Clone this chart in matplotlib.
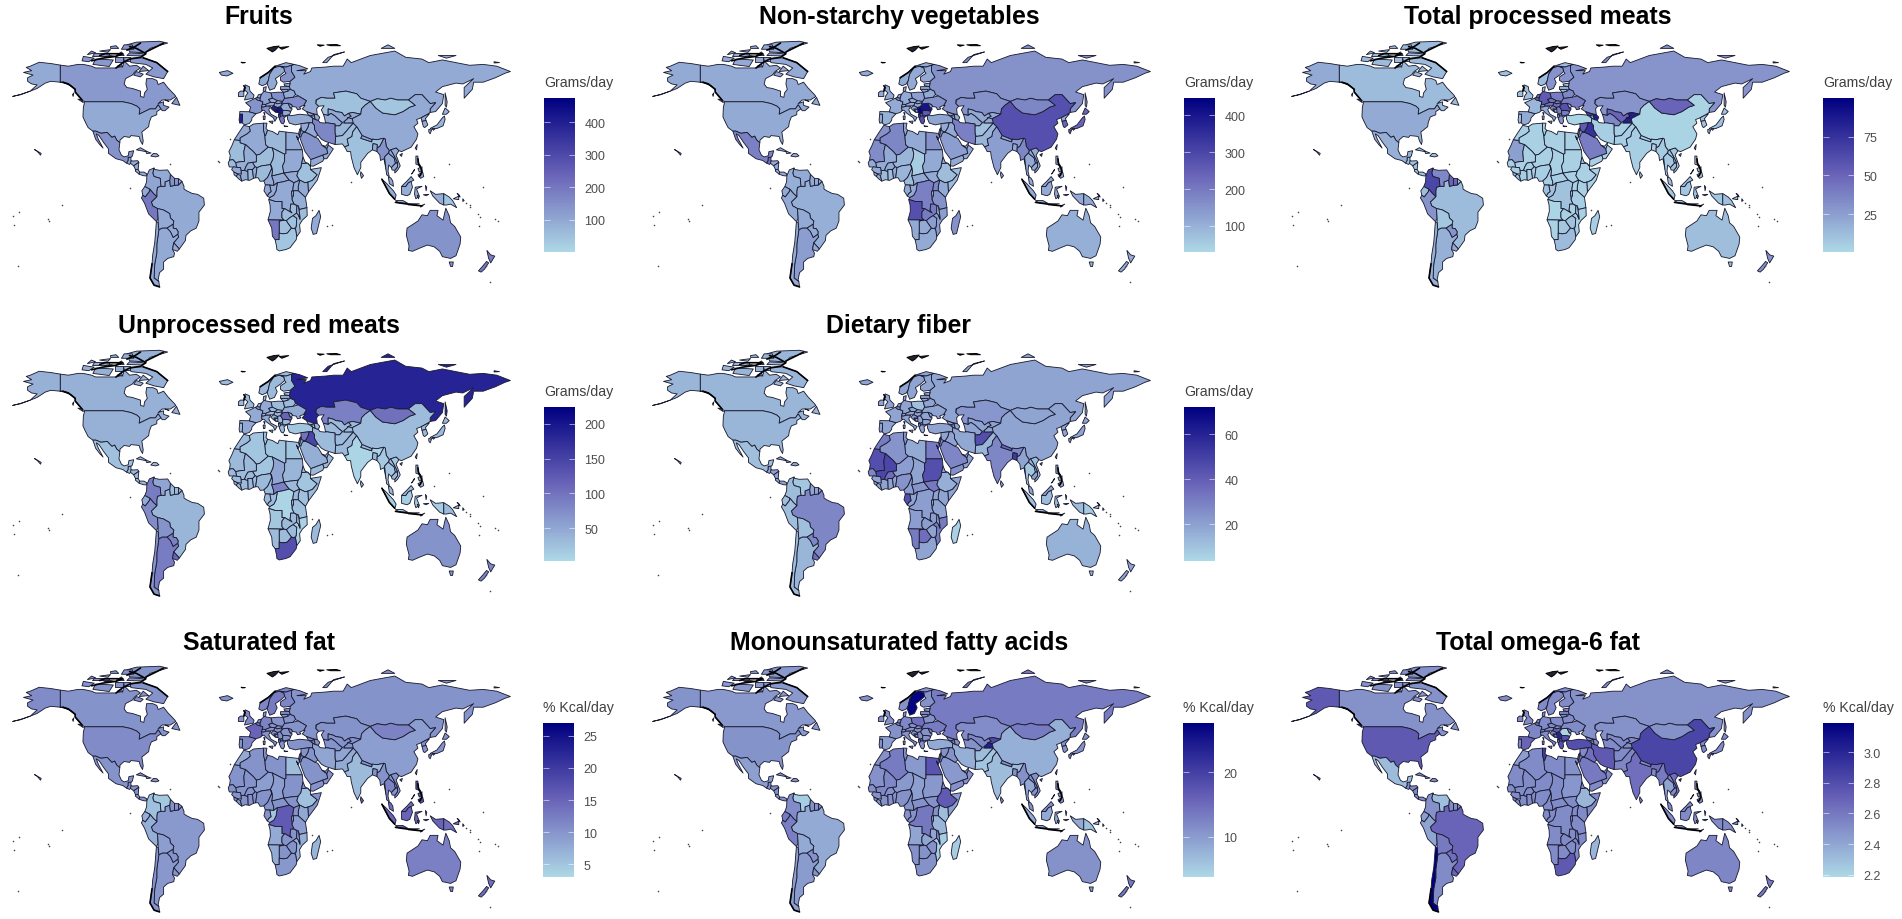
import matplotlib
matplotlib.use('Agg')
import matplotlib.pyplot as plt
from matplotlib.cm import ScalarMappable
from matplotlib.collections import PolyCollection
from matplotlib.colors import LinearSegmentedColormap, Normalize

plt.rcParams['font.family'] = ['Liberation Sans', 'DejaVu Sans']

W, H = 1902, 920

# rough country outlines, lon/lat. big ones first, smaller ones drawn on top
SHAPES = {
 'RUS': [[(31,70),(29,69.5),(29,66),(31.5,62.8),(28,60.5),(28,59.5),(27.5,57.5),(28,56),(31,55),(32,53),(34,52.3),(40,49.6),(38,47),(39,47),(37,45),(40,43.5),(44,42.5),(48,41.8),(47.5,45),(49,46.5),(47,48),(47,50),(51,51.5),(55,51),(61,51),(60,54),(69,55),(77,53.5),(80,51),(87,49.2),(92,50.7),(98,50),(102,51),(107,50),(115,50),(120,53),(125,53),(131,48),(135,48.5),(131,45),(131,43),(135,43.5),(140,48),(141,53),(135,54.5),(140,57.5),(150,59.5),(155,59),(163,62),(156,57),(156,51),(162,56),(163,60),(170,60),(179,62.5),(186,65),(190,66),(180,69),(170,70),(160,69.5),(150,71),(140,72.5),(130,71),(125,73),(113,74),(105,77.5),(87,75),(80,73),(73,71),(70,73),(67,69),(60,69),(54,68.5),(44,68),(43,66),(38,64.5),(40,66.5),(33,66.5),(41,67.5),(35,69.3)],
         [(142,54),(143.5,49),(143,46),(142,47)],
         [(52,71),(56,74),(68,77),(60,75.5),(55,71)],
         [(95,79),(105,79),(100,81)],[(137,75),(150,75),(143,73.5)],[(178,71.5),(182,71),(178,70.8)]],
 'CAN': [[(-141,69.6),(-135,69),(-128,70),(-124,70),(-118,69),(-115,68),(-108,68),(-100,68),(-95,69),(-94,72),(-90,69),(-85,69.5),(-82,68),(-86,66),(-88,64),(-93,62),(-94,59),(-92,57),(-88,56.5),(-82,55),(-82,52),(-79.5,51.5),(-79,54),(-77,56),(-78,59),(-77.5,62),(-73,62),(-70,61),(-69,58.7),(-65,60),(-62,57),(-57,53),(-56,52),(-60,50),(-66,50),(-69,48),(-65,49),(-65,47),(-61,46),(-64,44),(-66,44),(-67,45),(-69,47.3),(-71,45),(-75,45),(-79,43.5),(-83,42),(-82.5,45),(-84.5,46.5),(-89,48),(-95,49),(-123,49),(-125,50),(-130,54.5),(-130,56),(-135,59),(-139,60),(-141,60)],
         [(-62,66),(-65,62),(-72,63),(-78,64.5),(-73,68),(-78,70),(-89,71),(-90,73.5),(-80,73.7),(-70,71)],[(-117,70),(-105,68.8),(-102,72.5),(-115,73)],
         [(-125,72),(-120,71.5),(-116,73.5),(-124,74.5)],[(-118,75),(-105,75),(-105,76.5),(-116,76.5)],[(-92,75),(-80,74.7),(-80,76),(-90,76.5)],
         [(-90,77),(-78,76.5),(-75,79),(-62,82),(-68,83),(-85,82.5),(-92,81)],[(-96,78.5),(-87,78.5),(-88,81),(-94,81)],[(-87,64),(-82,63),(-80,64.5),(-85,66)],
         [(-59,48),(-53,47),(-55.5,51.5)],[(-128,50.5),(-124,48.5),(-125,50)],[(-101,71.5),(-95,71.5),(-95,74),(-101,74)],[(-100,75),(-94,75),(-96,77)],
         [(-112,77.5),(-106,76.8),(-104,78.3)],[(-121,75.5),(-115,76.5),(-118,77.5)],[(-99,69),(-95,68.5),(-96,70)],[(-64,50),(-62,49.5),(-61,49.2)],
         [(-94,72),(-90,72),(-90,74),(-95,74)],[(-104,79),(-98,79),(-100,80.5),(-104,80)],[(-109,74.3),(-100,74.5),(-104,75)],[(-83,66),(-76,66.5),(-80,69)],[(-132,53),(-131.5,52),(-131,54)]],
 'USA': [[(-123,49),(-95,49),(-89,48),(-84.5,46.5),(-82.5,45),(-83,42),(-79,43.5),(-75,45),(-71,45),(-69,47.3),(-67,45),(-70,43.5),(-70,41.7),(-74,40.5),(-75.5,37.5),(-76,35),(-81,32),(-80,27),(-80.5,25),(-82,27),(-83,29.5),(-85,29.7),(-89,30),(-90,29),(-94,29.5),(-97,27.5),(-97.2,26),(-99.5,27.5),(-101,29.7),(-103,29),(-106.5,31.8),(-111,31.3),(-114.8,32.5),(-117,32.5),(-120.5,34.5),(-122.5,37.5),(-124.3,40.5),(-124,46)],
         [(-141,69.6),(-148,70.5),(-156.5,71.2),(-163,69),(-166,68.3),(-162,66.5),(-168,65.5),(-161,64),(-165,62.5),(-165,60.5),(-162,59),(-158,58.5),(-163,55),(-158,56.5),(-152,59.5),(-148,60.5),(-141,60),(-139,60),(-135,59),(-130,56),(-133,58),(-138,59.5),(-141,60)],
         [(-160,22.2),(-155,20),(-155.5,19),(-158,21.2)],[(-163,55),(-170,53),(-176,52),(-170,53.2)]],
 'MEX': [[(-117,32.5),(-114.8,32.5),(-111,31.3),(-106.5,31.8),(-103,29),(-101,29.7),(-99.5,27.5),(-97.2,26),(-97.8,22),(-96,19),(-94,18),(-91,18.7),(-90.5,21),(-87,21.5),(-88,18.5),(-89,17.8),(-91,17.8),(-91,16),(-92.2,14.5),(-95,16),(-100,17),(-105.5,20),(-105.5,22.5),(-109,26),(-112.5,30),(-114.5,31),(-113,28),(-109.5,23),(-112,25),(-115,28)]],
 'GTM': [[(-92.2,14.5),(-91,16),(-91,17.8),(-89,17.8),(-89,15.9),(-88.2,15.7),(-89.3,14.4),(-90,13.8)]],
 'HND': [[(-89,15.9),(-88.2,15.7),(-84,15.9),(-83.2,15),(-87,13),(-89.3,14.4)]],
 'NIC': [[(-87,13),(-83.2,15),(-83.7,11),(-85.7,11)]],
 'CRI': [[(-85.7,11),(-83.7,11),(-82.6,9.5),(-83,8.3),(-85.7,10)]],
 'PAN': [[(-83,8.3),(-82.6,9.5),(-79.5,9.5),(-77.3,8.5),(-77.8,7.3),(-80,7.5)]],
 'CUB': [[(-85,22),(-82,23.2),(-77,21),(-74.2,20.2),(-77.5,19.9),(-78,21)]],
 'HTI': [[(-74.4,18.5),(-72.5,20),(-70,19.8),(-68.4,18.6),(-71,18),(-72,18.2)]],
 'BRA': [[(-51.5,4.3),(-50,1.5),(-50,0),(-48,-1),(-44,-2.5),(-40,-3),(-35.5,-5.2),(-35,-9),(-39,-13),(-39,-18),(-41,-22),(-45,-23.5),(-48.5,-26),(-49,-29),(-53.4,-33.7),(-57.6,-30.2),(-54,-27),(-54.6,-25.5),(-54.3,-24),(-55.7,-22.3),(-58,-22),(-58,-19.8),(-57.5,-18),(-60,-16.3),(-60.5,-13.8),(-65.3,-11.7),(-69.5,-11),(-73,-9.5),(-74,-7.3),(-70,-4.3),(-70,-1),(-69.5,1),(-67,1.5),(-64,1.5),(-64,4),(-60.5,5),(-60,1.5),(-57,2),(-54,2.3)]],
 'GUF': [[(-54,2.3),(-51.5,4.3),(-54,5.8)]],
 'SUR': [[(-57,2),(-54,2.3),(-54,5.8),(-57,6)]],
 'GUY': [[(-60,1.5),(-57,2),(-57,6),(-60,8.3),(-60.5,5)]],
 'VEN': [[(-71.5,11),(-68,10.5),(-62,10.7),(-60,8.3),(-60.5,5),(-64,4),(-64,1.5),(-67,1.5),(-67.5,6),(-72,7),(-73,9),(-72,11.8)]],
 'COL': [[(-72,11.8),(-73,9),(-72,7),(-67.5,6),(-67,1.5),(-69.5,1),(-70,-1),(-70,-4.3),(-72.5,-2.5),(-75,-0.2),(-78.8,1.4),(-77.5,4),(-77.3,7.5),(-75.5,10.7)]],
 'ECU': [[(-78.8,1.4),(-75,-0.2),(-75.5,-1.5),(-78.5,-4.5),(-80.3,-3.5),(-81,-1)]],
 'PER': [[(-80.3,-3.5),(-78.5,-4.5),(-75.5,-1.5),(-75,-0.2),(-72.5,-2.5),(-70,-4.3),(-74,-7.3),(-73,-9.5),(-69.5,-11),(-69,-16.5),(-70.3,-18.3),(-76,-14),(-79,-8),(-81.3,-5)]],
 'BOL': [[(-69.5,-11),(-65.3,-11.7),(-60.5,-13.8),(-60,-16.3),(-57.5,-18),(-58,-19.8),(-62.5,-22),(-66,-22),(-68.5,-23),(-69,-19),(-69,-16.5)]],
 'PRY': [[(-58,-19.8),(-58,-22),(-55.7,-22.3),(-54.3,-24),(-54.6,-25.5),(-58,-27.3),(-60,-24),(-62.5,-22)]],
 'ARG': [[(-66,-22),(-62.5,-22),(-60,-24),(-58,-27.3),(-54.6,-25.5),(-54,-27),(-57.6,-30.2),(-58.4,-34),(-57,-36),(-57.5,-38),(-62,-39),(-65,-41),(-65,-45),(-68,-47),(-69,-51),(-68.5,-52),(-72,-50),(-71.5,-42),(-70,-36),(-70,-31),(-68.5,-23)]],
 'CHL': [[(-70.3,-18.3),(-69,-19),(-68.5,-23),(-70,-31),(-70,-36),(-71.5,-42),(-72,-50),(-68.5,-52),(-68,-55),(-72,-54),(-75,-50),(-73.5,-42),(-73,-37),(-71.5,-30)]],
 'URY': [[(-57.6,-30.2),(-53.4,-33.7),(-55,-35),(-58.4,-34)]],
 'MRT': [[(-13,27.7),(-8.7,27.3),(-8.7,26),(-4.8,25),(-6,21),(-5.5,15.5),(-9,15.3),(-12,14.8),(-14,16.5),(-16.5,16.2),(-16,19),(-17,21),(-15,24)]],
 'MAR': [[(-6,35.8),(-2,35),(-1.2,32.5),(-3.5,31),(-8.7,28.7),(-8.7,27.3),(-13,27.7),(-9.8,31.5)]],
 'DZA': [[(-2,35),(1,36.5),(8.5,37),(8.5,33),(9.5,30),(10,25),(12,23.5),(5.8,19.5),(3.2,19),(1,21),(-4.8,25),(-8.7,26),(-8.7,28.7),(-3.5,31),(-1.2,32.5)]],
 'TUN': [[(8.5,37),(11,37),(10.3,34),(11.5,33),(10,30),(9.5,30),(8.5,33)]],
 'LBY': [[(11.5,33),(15,32.3),(19,30.5),(20,32.5),(25,32),(25,20),(24,19.5),(15,23),(12,23.5),(10,25),(9.5,30),(10,30)]],
 'EGY': [[(25,32),(31,31.5),(34.3,31.2),(34.9,29.5),(33.7,27.8),(32.7,29.8),(36,24),(37,22),(25,22)]],
 'NER': [[(12,23.5),(15,23),(16,20),(15.5,16.9),(13.5,13.7),(10,13.3),(7,13),(3.7,12),(2.3,12.5),(0.2,15),(3.2,15.3),(3.2,19),(5.8,19.5)]],
 'MLI': [[(-4.8,25),(1,21),(3.2,19),(3.2,15.3),(0.2,15),(-3,14.5),(-4.5,12.5),(-5.5,10.5),(-8,10.3),(-8.5,12),(-11.4,12.2),(-12,14.8),(-9,15.3),(-5.5,15.5),(-6,21)]],
 'SEN': [[(-12,14.8),(-11.4,12.2),(-16.7,12.4),(-17.5,14.7),(-16.5,16.2),(-14,16.5)]],
 'GIN': [[(-13.7,12.5),(-11.4,12.2),(-8.5,12),(-8,10.3),(-7.8,8.5),(-10.5,8.5),(-13.3,9.5),(-15,11)]],
 'SLE': [[(-13.3,9.5),(-10.5,8.5),(-11.5,7),(-13.2,8)]],
 'LBR': [[(-11.5,7),(-10.5,8.5),(-8.5,7.5),(-7.5,4.4),(-9.5,5.5)]],
 'CIV': [[(-7.5,4.4),(-8.5,7.5),(-7.8,8.5),(-8,10.3),(-5.5,10.5),(-3,9.8),(-2.8,5),(-5,5.2)]],
 'BFA': [[(-5.5,10.5),(-4.5,12.5),(-3,14.5),(0.2,15),(2.3,12.5),(0.5,11),(-3,11),(-3,9.8)]],
 'GHA': [[(-3,11),(0,11),(0.5,10),(1.1,6),(-2,4.8),(-2.8,5),(-3,9.8)]],
 'BEN': [[(0.5,11),(2.3,12.5),(3.7,12),(2.7,6.3),(1.1,6),(0.5,10),(0,11)]],
 'NGA': [[(2.7,6.3),(3.7,12),(7,13),(10,13.3),(13.5,13.7),(14.5,11.5),(11.5,6.5),(8.7,4.5),(6,4.3),(4.5,6.3)]],
 'TCD': [[(15,23),(24,19.5),(24,15.5),(22.5,13),(23.4,9),(18.5,8),(15.5,7.5),(14.5,7.5),(15,10),(14.3,13),(13.5,13.7),(15.5,16.9),(16,20)]],
 'CMR': [[(8.7,4.5),(11.5,6.5),(14.5,11.5),(14.3,13),(15,10),(14.5,7.5),(16,4),(16,2),(13,2.2),(9.8,2.3)]],
 'CAF': [[(14.5,7.5),(15.5,7.5),(18.5,8),(23.4,9),(27.4,5),(22.5,4),(18.6,3.5),(16,2),(16,4)]],
 'SDN': [[(24,19.5),(25,20),(25,22),(37,22),(37.5,18),(36.5,14.3),(36,12),(34,10),(28,9.5),(24,9),(23.4,9),(22.5,13),(24,15.5)]],
 'SSD': [[(23.4,9),(24,9),(28,9.5),(34,10),(33,7.5),(35,5),(30.8,3.5),(27.4,5)]],
 'ERI': [[(37.5,18),(39,15.3),(43,12.7),(41,14.5),(36.5,14.3)]],
 'ETH': [[(36.5,14.3),(41,14.5),(43,12.7),(43,11),(48,8),(44.5,4.9),(41.5,3.9),(39,3.5),(35,5),(33,7.5),(34,10),(36,12)]],
 'SOM': [[(43,11),(51,12),(48,5),(41.5,-1.7),(41,3.9),(41.5,3.9),(44.5,4.9),(48,8)]],
 'KEN': [[(35,5),(39,3.5),(41,3.9),(41.5,-1.7),(39.3,-4.7),(34,-1),(34,1.5)]],
 'UGA': [[(30.8,3.5),(35,5),(34,1.5),(34,-1),(30,-1),(30,0.5)]],
 'COD': [[(18.6,3.5),(22.5,4),(27.4,5),(30.8,3.5),(30,0.5),(30,-1),(29,-1.3),(29.3,-4),(29.5,-6),(31,-8.5),(28.5,-8.5),(28,-12),(29.5,-13.5),(24,-11),(22,-11),(22,-7),(17,-7),(13,-6),(12.3,-6),(13,-4.8),(16,-3.5),(17.7,-1)]],
 'TZA': [[(30,-1),(34,-1),(39.3,-4.7),(40.4,-10.5),(35,-11.5),(34,-9.5),(31,-8.5),(29.5,-6),(30.5,-3)]],
 'RWA': [[(29,-1.3),(30.5,-1),(30.5,-4),(29.3,-4)]],
 'COG': [[(13,2.2),(16,2),(18.6,3.5),(17.7,-1),(16,-3.5),(13,-4.8),(11.2,-3.9),(12.5,-2.3),(14,-1.5)]],
 'GAB': [[(9.8,2.3),(13,2.2),(14,-1.5),(12.5,-2.3),(11.2,-3.9),(8.8,-1)]],
 'AGO': [[(12.3,-6),(13,-6),(17,-7),(22,-7),(22,-11),(24,-11),(22,-13),(22,-16),(23.4,-17.5),(18.5,-17.4),(11.8,-17.3),(13.5,-12.5),(13.3,-9)]],
 'ZMB': [[(22,-13),(24,-11),(29.5,-13.5),(28,-12),(28.5,-8.5),(31,-8.5),(33,-9.5),(32.8,-13.5),(30.2,-15),(28,-16),(25.3,-17.8),(23.4,-17.5),(22,-16)]],
 'MOZ': [[(40.4,-10.5),(35,-11.5),(34.5,-12),(35,-14),(35.3,-17),(34,-14.5),(32.8,-13.5),(30.2,-15),(32.9,-16.5),(32.5,-21),(32,-22.5),(32.9,-26.8),(35.5,-24),(35,-20),(37,-17.5),(40.6,-15)]],
 'MWI': [[(33,-9.5),(34,-9.5),(35,-14),(35.3,-17),(34,-14.5),(32.8,-13.5)]],
 'ZWE': [[(25.3,-17.8),(28,-16),(30.2,-15),(32.9,-16.5),(32.5,-21),(31,-22.3),(29,-22),(26,-18.8)]],
 'BWA': [[(20,-18),(23.4,-17.5),(25.3,-17.8),(26,-18.8),(29,-22),(26,-24.8),(23,-25.2),(20,-24.8)]],
 'NAM': [[(11.8,-17.3),(18.5,-17.4),(23.4,-17.5),(20,-18),(20,-24.8),(20,-28.4),(17,-28.5),(15,-26.5),(14.5,-22)]],
 'ZAF': [[(17,-28.5),(20,-28.4),(20,-24.8),(23,-25.2),(26,-24.8),(29,-22),(31,-22.3),(32,-22.5),(32.9,-26.8),(32.5,-28.5),(28,-33),(25,-34),(20,-34.8),(18.3,-34),(18,-32)]],
 'MDG': [[(49.3,-12),(50.5,-15.5),(47.5,-25),(45,-25.5),(43.5,-22),(44.5,-16.5),(47,-15)]],
 'ESP': [[(-9,43.5),(-2,43.4),(3,42.3),(0,40),(-0.3,38.5),(-2,36.8),(-5.5,36),(-7.3,37.2),(-7,39.5),(-7,42),(-9,42)]],
 'PRT': [[(-9,42),(-7,42),(-7,39.5),(-7.3,37.2),(-9,37),(-9.5,38.8)]],
 'FRA': [[(-2,43.4),(3,42.3),(6,43),(7.5,44),(7,46),(7.6,47.6),(8,49),(6,49.6),(4,50),(2.5,51),(-1.5,49.5),(-4.7,48.5),(-1,46)],[(8.6,43),(9.5,42.8),(9.3,41.5)]],
 'GBR': [[(-5.5,50),(1,51),(1.5,52.7),(-1.5,55),(-2,57.5),(-5,58.5),(-6,56),(-3,54),(-4.5,52.5)]],
 'IRL': [[(-10,52),(-6,52),(-6,55),(-8.5,55),(-10,54)]],
 'ISL': [[(-24,65.5),(-18,66.5),(-14,65),(-18.5,63.5),(-22.5,64)]],
 'NLD': [[(3.5,51.3),(6,51),(7,53.3),(4.8,53)]],
 'BEL': [[(2.5,51),(3.5,51.3),(6,51),(6,49.6),(4,50)]],
 'DEU': [[(6,51),(7,53.3),(8.8,54.8),(14,54),(15,51),(12.2,50.3),(13.8,48.7),(10,47.5),(7.6,47.6),(8,49),(6,49.6)]],
 'CHE': [[(7,46),(7.6,47.6),(10,47.5),(10.3,46.5),(8.5,46)]],
 'AUT': [[(10,47.5),(13.8,48.7),(17,48.5),(16,46.8),(10.3,46.5)]],
 'ITA': [[(7,46),(8.5,46),(10.3,46.5),(13.7,46.5),(12.3,44.5),(14,42),(18.5,40.2),(16.8,38),(15.7,40),(11,42.5),(8.7,44.3),(7.5,44)],[(12.5,38),(15.5,38.2),(15,36.7)],[(8.2,41),(9.7,41),(9.5,39),(8.4,39)]],
 'DNK': [[(8.2,55),(8.8,54.8),(10,55),(10.5,57.5),(8.5,57)]],
 'NOR': [[(5,59),(7.5,58),(10.5,59),(12,61),(13,64.5),(16,68),(20,69),(25,68.5),(29,69.5),(31,70),(25,71),(17,69),(12,65.5),(6,62.5)]],
 'SWE': [[(11.2,59),(13,55.5),(16.5,56.5),(18.5,59.7),(17.2,62),(21,64),(24,66),(23.5,68),(20,69),(16,68),(13,64.5),(12,61)]],
 'FIN': [[(21,61),(23,60),(28,60.5),(31.5,62.8),(29,66),(29,69.5),(25,68.5),(20.5,69),(23.5,68),(24,66),(25,65),(21,63)]],
 'POL': [[(14,54),(19,54.4),(23,54.3),(24,51),(22.7,49.2),(19,49.4),(15,51)]],
 'CZE': [[(12.2,50.3),(15,51),(18.8,49.6),(17,48.5),(13.8,48.7)]],
 'SVK': [[(17,48.5),(18.8,49.6),(22.5,49.2),(22,48.4),(18.5,47.8)]],
 'HUN': [[(16,46.8),(17,48.5),(18.5,47.8),(22,48.4),(21,46.2),(18.5,45.8)]],
 'HRV': [[(13.7,45.5),(16,46.8),(18.5,45.8),(19,45),(16,45),(17.5,43),(15,44.5)]],
 'BIH': [[(16,45),(19,45),(19,43),(17.5,43)]],
 'SRB': [[(18.5,45.8),(21,46.2),(22.7,44.2),(22.5,42.5),(20.5,42),(19,43),(19,45)]],
 'ALB': [[(19.4,42),(20.5,42),(21,40),(19.5,40.3)]],
 'MKD': [[(20.5,42),(22.5,42.2),(23,41),(21,41)]],
 'GRC': [[(21,41),(23,41),(26.3,41.5),(23.5,40),(24,38),(23,36.5),(21.5,37),(20,39.5)],[(23.5,35.5),(26.3,35.2),(24.5,35)]],
 'BGR': [[(22.7,44.2),(27,44),(28.5,43.5),(27.7,42),(26.3,41.5),(23,41),(22.5,42.2)]],
 'ROU': [[(21,46.2),(22.8,47.9),(26.5,48.2),(28.2,45.5),(29.6,45),(28.5,43.7),(27,44),(22.7,44.2)]],
 'MDA': [[(26.5,48.2),(29,47.5),(30,46.3),(28.2,45.5)]],
 'UKR': [[(24,51),(30,51.5),(34,52.3),(40,49.6),(38,47),(35,46),(36,45),(33.5,44.5),(32.5,46),(30,46.3),(29,47.5),(26.5,48.2),(22.8,47.9),(22,48.4),(22.5,49.2)]],
 'BLR': [[(23,54.3),(26.5,55),(28,56),(31,55),(32,53),(30,51.5),(24,51)]],
 'LTU': [[(21,56),(26,56),(26.5,55),(23,54.3)]],
 'LVA': [[(21,57.5),(24,57.5),(27.5,57.5),(28,56),(21,56)]],
 'EST': [[(23.5,59),(28,59.5),(27.5,57.5),(24,58)]],
 'TUR': [[(26.3,41.5),(29,41.2),(35,42),(41.5,41.5),(44.7,39.7),(44.5,37.2),(42,37.2),(36,36.7),(32,36),(27.5,37),(26,39.5)]],
 'GEO': [[(40,43.5),(46,41.8),(43.5,41.2),(41.5,41.5)]],
 'ARM': [[(43.5,41.2),(46,41),(46.5,39),(44.7,39.7)]],
 'AZE': [[(46,41.8),(48,41.8),(49.8,40.3),(48.8,38.5),(46.5,39),(46,41)]],
 'KAZ': [[(47.5,50),(47,48),(49,46.5),(53,46.8),(51,44.5),(52.5,42),(56,41.3),(56,45),(60,44.2),(61.5,43.5),(66,43),(68,41),(71,42.5),(74,43),(80,42),(80.5,45),(83,47),(87,49.2),(80,51),(77,53.5),(69,55),(60,54),(61,51),(55,51),(51,51.5)]],
 'UZB': [[(56,41.3),(56,45),(60,44.2),(61.5,43.5),(66,43),(68,41),(71,42.5),(73,40.8),(71,40),(68,38),(66.5,37.3),(64,38.8),(61,41),(58,42.5)]],
 'TKM': [[(52.5,42),(56,41.3),(58,42.5),(61,41),(64,38.8),(66.5,37.3),(64.5,35.5),(61,35.5),(61,36.5),(54,37.3),(53.5,39.5)]],
 'KGZ': [[(71,42.5),(74,43),(80,42),(76,40.4),(73.5,39.5),(70,40),(73,40.8)]],
 'TJK': [[(68,38),(71,40),(73.5,39.5),(75,37.3),(71.5,37),(68,37)]],
 'AFG': [[(61,35.5),(64.5,35.5),(66.5,37.3),(68,37),(71.5,37),(74.5,37),(71,34),(70,33),(66.5,30),(62,29.5),(61,31.5)]],
 'PAK': [[(61,25),(61.5,29.5),(66.5,30),(70,33),(71,34),(74.5,37),(77,35),(74,32),(73.5,29.5),(70,28),(71,24.5),(68,23.7),(66.5,25.3)]],
 'CHN': [[(73.7,39.5),(76,40.4),(80,42),(80.5,45),(83,47),(87,49.2),(91,45.5),(96,42.7),(105,41.7),(111,43.5),(116,46),(120,47),(115,50),(120,53),(125,53),(131,48),(135,48.5),(131,45),(131,43),(128,41.5),(124.3,40),(121,39),(122,37),(119,35),(122,31),(121,28),(117,23.5),(110,21),(108,21.5),(106,23),(102,22),(101,21.5),(98.7,24),(98,28),(97,28.5),(92,27.7),(88.5,28),(88,27.8),(81,30),(79,32.5),(77,35),(74.5,37)],[(108.7,19.2),(110.5,20),(110,18.3)]],
 'IND': [[(68,23.7),(71,24.5),(70,28),(73.5,29.5),(74,32),(77,35),(79,32.5),(81,30),(80,28.5),(88,26.5),(88.5,28),(92,27.7),(97,28.5),(94,24),(92,23),(92,25),(89,25.5),(88.5,22),(85,20),(80,15),(80,12),(77.5,8),(75,12),(73,18),(72.5,21),(70,21),(69,22.5)]],
 'BGD': [[(88.5,22),(89,25.5),(92,25),(92,21)]],
 'NPL': [[(80,28.5),(81,30),(88,27.8),(88,26.5)]],
 'LKA': [[(80,9.7),(82,7.5),(80.5,6),(79.8,8)]],
 'MNG': [[(87,49.2),(92,50.7),(98,50),(102,51),(107,50),(115,50),(120,47),(116,46),(111,43.5),(105,41.7),(96,42.7),(91,45.5)]],
 'PRK': [[(124.3,40),(128,41.5),(130.5,42.3),(127.5,39.5),(128,38.5),(125,38)]],
 'KOR': [[(125,38),(128,38.5),(129.3,36),(127,34.5),(126,35)]],
 'JPN': [[(131,34),(136,36),(140,40),(141.5,41),(142,39),(140.5,35.5),(136,34),(132,33.5)],[(140,42),(142,45.5),(145,43.5),(143,42)],[(130,33.5),(132,33),(131,31),(130,32)],[(132.5,34),(134.5,34),(133.5,33)]],
 'TWN': [[(120,23),(121.5,25),(121,22)]],
 'MMR': [[(92,21),(92,23),(94,24),(97,28.5),(98,28),(98.7,24),(101,21.5),(100,20),(97.5,18),(98.5,11),(97,17),(94.5,16),(94,19)]],
 'THA': [[(98.5,11),(97.5,18),(100,20),(100.5,20),(104.5,17.5),(105.5,14.5),(102.5,12),(100.5,13.5),(100,10),(101,6.7),(99,8)]],
 'LAO': [[(101,21.5),(102,22),(104,19.5),(107,15),(105.5,14.5),(104.5,17.5),(100.5,20)]],
 'VNM': [[(102,22),(106,23),(108,21.5),(106,19),(109,13),(107,10.5),(105,9),(105,10.5),(107,12.5),(107,15),(104,19.5)]],
 'KHM': [[(102.5,12),(105.5,14.5),(107,14.5),(107,12.5),(105,10.5),(103,10.7)]],
 'MYS': [[(100.3,6.5),(102,6.3),(103.5,4.5),(104,1.5),(101,3)],[(110,1.5),(114,4.5),(117,7),(119,5),(117,4.2),(115,3.5),(113,1.3)]],
 'IDN': [[(95.5,5.5),(98.5,3.5),(104,-1),(106,-3.5),(105,-5.8),(101,-2.5)],[(110,1.5),(113,1.3),(115,3.5),(117,4.2),(118,1),(116,-3),(114,-3.8),(110,-3)],
         [(105.5,-6.5),(111,-6.5),(114.5,-8),(108,-7.8)],[(120,1),(125,1.5),(121,0),(123,-4),(120.5,-5.5),(119.5,-3)],[(131,-1),(135,-3),(141,-2.6),(141,-9),(138,-8),(133,-4)],
         [(115,-8.2),(119,-8.3),(123,-8.3),(119,-9)],[(124,-9.5),(127,-8.5),(124,-10.2)],[(127.5,2),(128.5,1),(128,-1)],[(126,-3.2),(130,-3),(128,-3.8)],[(121.5,-3.5),(123,-4),(122.5,-5.5)]],
 'PNG': [[(141,-2.6),(145,-4.5),(147.5,-6.5),(150.5,-10.5),(146,-8.5),(143,-9),(141,-9)],[(148,-5.5),(152,-4),(152,-6)],[(152,-3),(150.8,-2.5),(153,-4.5)],[(155,-5.5),(156,-6.5),(155,-7)]],
 'PHL': [[(120.5,18.5),(122,18.5),(122,15),(124,13),(120.5,14)],[(122,8),(125.5,9.5),(126.3,7),(124,6)],[(122,11.5),(125,12.5),(125,10.5),(123,9.5)],[(117.3,8.4),(119.5,11),(119,10)]],
 'AUS': [[(114,-22),(113.5,-26),(115.5,-32),(115,-34.5),(118,-35),(124,-33),(129,-31.5),(134,-32.5),(138,-35),(140,-38),(146,-39),(150,-37.5),(153,-31),(153.5,-27),(149,-21),(146,-19),(145,-15),(142.5,-10.8),(141.5,-14),(140.5,-17.5),(136,-15),(136.8,-12),(131,-12),(129,-15),(125,-14.5),(122,-18),(117,-20.5)],[(145,-41),(148,-41),(147.5,-43.5),(146,-43.5)]],
 'NZL': [[(172.7,-34.5),(175.5,-37),(178.5,-37.7),(175.5,-41.5),(174,-39)],[(172.5,-40.7),(174,-41.5),(171,-45),(168.5,-46.7),(166.5,-46),(170,-43)]],
 'SAU': [[(34.9,29.5),(37,31.5),(39,32),(42,31),(46.5,29),(48.4,28.5),(50,26.5),(51.5,24.6),(55,22.7),(55.7,20),(52,19),(48.5,18),(43.3,16.5),(39,21),(36.5,26)]],
 'YEM': [[(43.3,16.5),(43,13),(45,12.8),(52,15.6),(53,17),(52,19),(48.5,18)]],
 'OMN': [[(52,19),(53,17),(55,17),(59.8,22.5),(56.5,24.5),(55.7,24.2),(55,22.7),(55.7,20)]],
 'ARE': [[(51.5,24.6),(54,24),(56.3,26),(56,24.5),(55,22.7)]],
 'IRQ': [[(39,32),(42,31),(46.5,29),(48.4,30.4),(46,33.5),(46,35.7),(44.5,37.2),(42,37.2),(41,34.5)]],
 'SYR': [[(36,35),(36,36.7),(42,37.2),(41,34.5),(39,32),(36.5,32.7)]],
 'JOR': [[(35,29.5),(35.5,32.5),(36.5,32.7),(39,32),(37,31.5),(36,29.2)]],
 'ISR': [[(34.3,31.2),(35,29.5),(35.5,32.5),(36,34.5),(35,33.5)]],
 'IRN': [[(44.7,39.7),(46.5,39),(48.8,38.5),(50,37.3),(54,37),(54,37.3),(61,36.5),(61,31.5),(61.5,29.5),(61,25),(57,26),(54,26.7),(51,28),(48.4,30.4),(46,33.5),(46,35.7),(44.5,37.2)]],
}

# polar islands, drawn black in every panel
SVALBARD = [[(11,79),(16,80),(20,80.3),(17,78),(15,77)], [(20,79.5),(27,80),(22,78.5)], [(48,81),(53,80.8),(50,80.2)], [(55,81),(62,81.2),(65,80.5),(58,80.5)], [(-5,71),(-8,71.2),(-7,70.8)]]

# thick dark coast where the fjords merge at this resolution
FJORDS = [[(-125,50),(-130,54.5),(-130,56),(-135,59),(-139,60)], [(-73.5,-42),(-75,-50),(-72,-54),(-68,-55)],
          [(6,62.5),(12,65.5),(17,69)], [(-100,68),(-95,71),(-90,73),(-82,74),(-78,76),(-85,79),(-90,80)],
          [(-118,72),(-110,73.5),(-100,74.5),(-95,76),(-108,76),(-112,75)], [(122,17),(122.5,14),(124,12),(125,10),(124,8),(123,7)],
          [(-78,77),(-70,80),(-65,82)], [(-92,78),(-86,80),(-82,82)], [(95.5,5.5),(101,-2.5),(105,-5.8)], [(105.5,-7.5),(114.5,-8.5)], [(115,-8.7),(125,-9.5)],
          [(-62,66),(-70,71),(-80,73.7)], [(-6,58),(-5,57),(-6,55)]]

ISLE_LON = [-90, -171, -175, -150, -140, -172, -25, -24, 58.6, 55.5, 44, 168, 167, 179, 181, 166, 160, 157, 73, 134, 145, 172, 170, -60, -16, -149, -176, 160, 175]
ISLE_LAT = [0.5, -13, -20, -17, -9, -43, 16, 15, -20, -21, -12, -16, -21, -17, -18, -14, -9, -8, 4, 7, 14, -43, 1, 14, 28, -18, -15, -10, -52]

# fill colours
PALETTE = ['#ADD8E6', '#6A64B8', '#000080']

titles = ['Fruits', 'Non-starchy vegetables', 'Total processed meats', 'Unprocessed red meats', 'Dietary fiber',
          'Saturated fat', 'Monounsaturated fatty acids', 'Total omega-6 fat']
units = ['Grams/day'] * 5 + ['% Kcal/day'] * 3
vmins = [1, 29, 0.6, 3, 3.8, 3, 3.7, 2.185]
vmaxs = [474, 447, 100, 224, 72, 27, 27.7, 3.19]
ticks = [[100, 200, 300, 400], [100, 200, 300, 400], [25, 50, 75], [50, 100, 150, 200], [20, 40, 60],
         [5, 10, 15, 20, 25], [10, 20], [2.2, 2.4, 2.6, 2.8, 3.0]]
tick_labels = [['100', '200', '300', '400'], ['100', '200', '300', '400'], ['25', '50', '75'], ['50', '100', '150', '200'], ['20', '40', '60'],
               ['5', '10', '15', '20', '25'], ['10', '20'], ['2.2', '2.4', '2.6', '2.8', '3.0']]

# values read from the fill colours; countries not listed take the panel's common value
base_values = [96, 113, 10, 32, 19, 10.2, 11, 2.52]
fruits = dict(CAN=129, MEX=143, PER=200, SUR=143, GUY=143, COL=105, NAM=200, AUS=143, NZL=190, KAZ=48, MNG=39, IND=48, PAK=58, AFG=72,
              IRN=167, SAU=143, MRT=58, LBY=67, NER=58, TCD=62, ETH=48, SOM=58, NGA=62, ZAF=39, ZMB=58, MOZ=58, BWA=48, ZWE=48, TZA=86,
              FRA=143, DEU=119, POL=152, UKR=152, PRT=400, ITA=143, BIH=450, SRB=427, HRV=400, FIN=143, MMR=143, IDN=86, PNG=39, JPN=72, ALB=300, GRC=200, MLI=86, GHA=60, SEN=60)
vegetables = dict(RUS=155, MEX=188, GTM=217, BRA=104, ARG=134, COL=104, AUS=104, CHN=280, MNG=175, KAZ=155, IND=134, PAK=92, AFG=71, IRN=188,
                  SAU=134, TUR=121, ROU=405, SRB=426, BGR=259, GRC=280, ALB=300, ESP=100, DZA=175, MAR=155, MRT=167, NER=92, TCD=50, NGA=92, EGY=155,
                  ETH=79, SOM=79, COD=188, UGA=175, TZA=155, AGO=280, ZMB=196, ZWE=134, MOZ=134, MDG=155, MMR=175, JPN=238, KOR=238, UKR=155, POL=134, PER=113, CMR=80, GHA=70, CIV=80)
processed = dict(RUS=30, KAZ=30, MNG=50, CHN=3, CAN=13, USA=20, MEX=18, COL=65, VEN=35, GUY=50, SUR=50, ECU=12, PER=30, BOL=8, PRY=30, ARG=18, CHL=18, BRA=13, URY=20,
                 SAU=40, IRQ=75, KGZ=85, TJK=85, UZB=50, TKM=35, AFG=5, AZE=85, GEO=70, IRN=5, PAK=5, IND=5, DEU=55, POL=40, CZE=45, UKR=40, BLR=35, ROU=60, BGR=40, HUN=45,
                 FRA=15, ESP=20, ITA=20, NLD=50, FIN=30, SWE=30, NOR=13, TUR=2, MAR=4, DZA=4, TUN=4, LBY=4, EGY=4, MRT=25, MLI=4, NER=4, TCD=4, SDN=4, SSD=4, ETH=4, SOM=4, KEN=4, UGA=4, TZA=5,
                 NGA=5, SEN=5, GIN=5, CIV=5, GHA=5, BFA=5, BEN=5, CMR=5, CAF=5, ZAF=13, NAM=3, AGO=2, COD=10, ZMB=4, MOZ=4, ZWE=10, BWA=8, MDG=5, AUS=12, NZL=30, JPN=10, THA=7, IDN=8, VNM=8, LAO=6, MMR=6, YEM=4, OMN=4, ARE=5, SYR=55, JOR=20, ISR=20, BGD=4, NPL=4, AUT=45, CHE=30, BEL=40, SVK=40, SRB=40, GRC=30, HRV=35)
red_meats = dict(RUS=184, KAZ=87, MNG=102, CHN=30, IND=7, CAN=41, USA=41, MEX=25, COL=91, VEN=52, PER=74, ECU=47, BOL=69, PRY=87, ARG=91, CHL=69, URY=113, BRA=36, ZAF=136, AUS=69, NZL=80,
                 IRQ=147, ROU=113, UKR=47, TCD=52, CAF=87, COD=7, SDN=36, NER=21, DZA=21, TZA=25, MOZ=10, NAM=30, ETH=21, COG=30, BWA=30, SAU=43, IRN=30, THA=21, IDN=14, FRA=47, DEU=47, ITA=47, TUR=21, ESP=47, EGY=22, LBY=22, TUN=22, KEN=25, AGO=20, VNM=18, MMR=18, SYR=100)
fiber = dict(MLI=48, MRT=45, SEN=28, SDN=45, EGY=31, DZA=24, MAR=31, LBY=17, TUN=24, NER=21, NGA=24, BFA=35, ETH=16, KEN=19, BRA=28, PRY=28, URY=35, ARG=14, CHL=12, PER=11, BOL=11, COL=12, VEN=9, ECU=11, MEX=11,
             SAU=28, AFG=45, PAK=14, IND=28, BGD=52, NPL=38, THA=9, VNM=12, KAZ=23, GAB=45, COD=21, AGO=21, NAM=31, BWA=35, ZMB=21, MOZ=31, MDG=6, POL=11, CAN=14, USA=14, AUS=15, CAF=24, SSD=32, CMR=21, YEM=25, IRN=18, LAO=14, PNG=8, IDN=12)
sat_fat = dict(USA=11, BRA=9.5, ARG=9.7, VEN=4.7, COL=5.4, ECU=7.3, PER=7.3, BOL=9, MEX=10.2, FRA=15, GBR=11.4, DEU=11.9, ESP=11.4, IND=6.1, PAK=7.8, CHN=9, MNG=11.9, COD=16.2, ETH=5.4, COG=5, EGY=5.9, MAR=7.8, NER=9, TCD=9, AUS=12.1, NZL=13.8, IDN=15,
               MYS=14, PNG=13.8, PHL=17.4, MDG=6.6, AGO=7.8, MOZ=7.3, NAM=7.8, ZAF=9.7, THA=11.9, SWE=12.6, FIN=11.4, NOR=11.4, IRN=8.3, AFG=8.3, LKA=15, KEN=8, TZA=9)
mufa = dict(SWE=27.2, RUS=13.3, USA=10.9, CAN=10.2, MEX=9.7, VEN=4.9, COL=11.6, ECU=13.3, PER=12.9, BRA=8.5, BOL=8.5, CHL=9.7, ARG=10, KAZ=11.6, MNG=13.3, KGZ=19, TJK=24, UZB=12, AFG=6.6, PAK=5.6, IND=6.6, IRN=8, SAU=10.2,
            CHN=8, EGY=17.6, ETH=16.9, SOM=9.7, KEN=6.6, COD=13.8, TZA=7.3, MOZ=4.9, MDG=4.9, DZA=13.3, MLI=12, LBY=10.2, SDN=10.4, NER=10.2, TCD=9.7, AGO=9, ZMB=9, NZL=13.8, POL=14.5, UKR=13.3, DEU=12, ESP=9.7, THA=8.5, IDN=8.5, TUR=8.5, PNG=6)
omega6 = dict(USA=2.74, CAN=2.49, MEX=2.31, CHN=2.84, MNG=2.49, RUS=2.49, KAZ=2.49, BRA=2.69, CHL=3.19, PER=2.41, ECU=2.44, COL=2.49, VEN=2.29, BOL=2.59, PRY=2.64, URY=2.69, ESP=2.69, FRA=2.54, TUR=2.79, IRN=2.74, IRQ=2.64, SAU=2.59, IND=2.64,
              THA=2.41, VNM=2.64, ETH=2.34, ZAF=2.74, MDG=2.34, AUS=2.54, NZL=2.59, MAR=2.44, TUN=2.89, ROU=2.2, BGR=2.79, GRC=2.79, MMR=2.59, SDN=2.47, EGY=2.49, SRB=3.0, PAK=2.54, HUN=2.7)
panel_values = [fruits, vegetables, processed, red_meats, fiber, sat_fat, mufa, omega6]

# panel geometry in pixels
map_left = [0, 640, 1279, 0, 640, 0, 640, 1279]
map_top = [0, 0, 0, 309, 309, 625, 625, 625]
legend_x = [544, 1184, 1823, 544, 1184, 543, 1183, 1823]
legend_y = [99, 99, 99, 408, 408, 724, 724, 724]
title_y = [17, 17, 17, 326, 326, 643, 643, 643]

cmap = LinearSegmentedColormap.from_list('diet', PALETTE, N=256)


def px_axes(x0, y0, x1, y1):
    return fig.add_axes([x0 / W, 1 - y1 / H, (x1 - x0) / W, (y1 - y0) / H])


fig = plt.figure(figsize=(W / 100, H / 100), dpi=100)

for i, title in enumerate(titles):
    x0 = map_left[i]
    y0 = map_top[i]
    ax = px_axes(x0, y0 + 35, x0 + 535, y0 + 300)
    ax.set_xlim((0 - 252) / 1.36, (535 - 252) / 1.36)
    ax.set_ylim((190 - 300) / 1.78, (190 - 35) / 1.78)
    ax.axis('off')

    polys, vals = [], []
    for code, rings in SHAPES.items():
        v = panel_values[i].get(code, base_values[i])
        for ring in rings:
            polys.append(ring)
            vals.append(v)
    norm = Normalize(vmins[i], vmaxs[i])
    coll = PolyCollection(polys, array=vals, cmap=cmap, norm=norm, edgecolors='#1a1a30', linewidths=0.62)
    ax.add_collection(coll)
    ax.add_collection(PolyCollection(SVALBARD, facecolors='#223', edgecolors='black', linewidths=0.7))
    for line in FJORDS:
        ax.plot([p[0] for p in line], [p[1] for p in line], color='black', lw=1.2, solid_capstyle='round')
    ax.scatter(ISLE_LON, ISLE_LAT, s=1.3, color='#444444', linewidths=0)

    fig.text((x0 + 259) / W, 1 - title_y[i] / H, title, ha='center', va='center',
             fontsize=17.9, fontweight='bold', color='black')

    # legend bar
    lx, ly = legend_x[i], legend_y[i]
    cax = px_axes(lx, ly, lx + 30.5, ly + 154)
    cb = fig.colorbar(ScalarMappable(norm=norm, cmap=cmap), cax=cax)
    cb.outline.set_visible(False)
    cb.set_ticks(ticks[i], labels=tick_labels[i])
    cax.tick_params(axis='y', which='major', direction='in', length=4.3, width=0.7, color=(1, 1, 1, 0.55),
                    left=True, right=True, labelsize=9, labelcolor='#4d4d4d', pad=7.2)
    cax.minorticks_off()
    fig.text(lx / W, 1 - (ly - 16) / H, units[i], ha='left', va='center', fontsize=10.2, color='#404040')

fig.savefig('out.png', dpi=100)
